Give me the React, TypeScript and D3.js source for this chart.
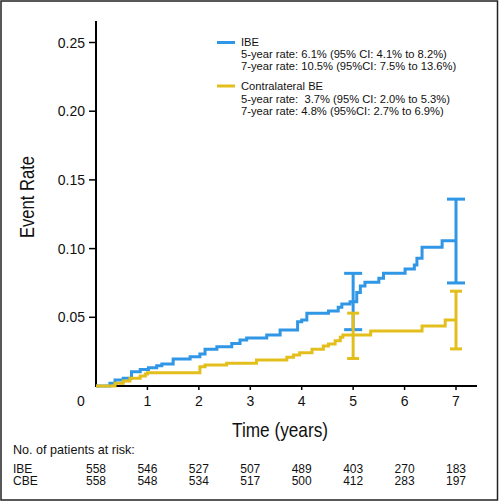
import React from "react";
import * as d3 from "d3";

const years = [0, 1, 2, 3, 4, 5, 6, 7];
const yTicks = [0.05, 0.1, 0.15, 0.2, 0.25];

const ibeTimes = [0, 0.27, 0.37, 0.53, 0.69, 0.86, 1.02, 1.18, 1.28, 1.5, 1.83, 2.02, 2.12, 2.35, 2.64, 2.8, 2.93, 3.32, 3.58, 3.92, 4.0, 4.1, 4.52, 4.71, 4.78, 4.94, 5.07, 5.14, 5.23, 5.5, 5.59, 6.01, 6.19, 6.24, 6.34, 6.73, 7.0];
const ibeRates = [0, 0.002, 0.0044, 0.0056, 0.0104, 0.012, 0.0133, 0.0148, 0.016, 0.0197, 0.0213, 0.0233, 0.0267, 0.0286, 0.031, 0.0335, 0.035, 0.0371, 0.0408, 0.0468, 0.048, 0.0529, 0.0546, 0.0573, 0.0597, 0.0614, 0.068, 0.0728, 0.0755, 0.0784, 0.082, 0.0852, 0.088, 0.093, 0.101, 0.1057, 0.1057];

const cbeTimes = [0, 0.37, 0.53, 0.66, 0.86, 0.96, 1.0, 2.02, 2.12, 2.54, 3.12, 3.71, 3.84, 3.96, 4.2, 4.42, 4.52, 4.65, 4.75, 4.8, 5.34, 6.34, 6.79, 7.0];
const cbeRates = [0, 0.002, 0.0036, 0.0056, 0.0073, 0.0087, 0.0097, 0.014, 0.0153, 0.0165, 0.0189, 0.0209, 0.0226, 0.0242, 0.0267, 0.0291, 0.0306, 0.033, 0.0354, 0.0371, 0.04, 0.0437, 0.048, 0.048];

const ciTimes = [5, 7];
const ibeLo = [0.041, 0.075];
const ibeHi = [0.082, 0.136];
const cbeLo = [0.02, 0.027];
const cbeHi = [0.053, 0.069];

const legendIBE = ["IBE", "5-year rate: 6.1% (95% CI: 4.1% to 8.2%)", "7-year rate: 10.5% (95%CI: 7.5% to 13.6%)"];
const legendCBE = ["Contralateral BE", "5-year rate:  3.7% (95% CI: 2.0% to 5.3%)", "7-year rate: 4.8% (95%CI: 2.7% to 6.9%)"];

const riskGroups = ["IBE", "CBE"];
const riskIBE = [558, 546, 527, 507, 489, 403, 270, 183];
const riskCBE = [558, 548, 534, 517, 500, 412, 283, 197];

const BLUE = "#3096e6";
const YELLOW = "#e3bf1e";
const FONT = "'Liberation Sans', Arial, sans-serif";

export default function App() {
  const x = d3.scaleLinear().domain([0, 7]).range([96, 456]);
  const y = d3.scaleLinear().domain([0, 0.25]).range([386, 42.5]);
  const line = d3
    .line<[number, number]>()
    .x((d) => x(d[0]))
    .y((d) => y(d[1]))
    .curve(d3.curveStepAfter);
  const ibePts: [number, number][] = ibeTimes.map((t, i) => [t, ibeRates[i]]);
  const cbePts: [number, number][] = cbeTimes.map((t, i) => [t, cbeRates[i]]);
  const yTop = 21;
  const xEnd = 477;

  const ci = (lo: number[], hi: number[], color: string, half: number) =>
    ciTimes.map((t, i) => (
      <g key={i} stroke={color} strokeWidth={3} fill="none">
        <line x1={x(t)} x2={x(t)} y1={y(lo[i])} y2={y(hi[i])} />
        <line x1={x(t) - half} x2={x(t) + half} y1={y(lo[i])} y2={y(lo[i])} />
        <line x1={x(t) - half} x2={x(t) + half} y1={y(hi[i])} y2={y(hi[i])} />
      </g>
    ));

  const riskRows = [riskIBE, riskCBE];
  const riskBase = [472.5, 485];

  return (
    <svg width={500} height={502} style={{ position: "absolute", left: 0, top: 0 }} fontFamily={FONT}>
      <rect x={0} y={0} width={500} height={502} fill="#fff" />
      <rect x={1} y={1} width={496.5} height={499} fill="none" stroke="#222" strokeWidth={1.5} />

      {/* axes */}
      <line x1={96} x2={96} y1={yTop} y2={y(0)} stroke="#000" strokeWidth={2} />
      <line x1={95} x2={xEnd} y1={y(0)} y2={y(0)} stroke="#000" strokeWidth={2} />
      {yTicks.map((v) => (
        <g key={v}>
          <line x1={89} x2={96} y1={y(v)} y2={y(v)} stroke="#000" strokeWidth={1.5} />
          <text x={85} y={y(v) + 5} fontSize={14} textAnchor="end" fill="#111">
            {v.toFixed(2)}
          </text>
        </g>
      ))}
      {years.map((t) =>
        t === 0 ? (
          <text key={t} x={81} y={406} fontSize={14} textAnchor="middle" fill="#111">
            0
          </text>
        ) : (
          <g key={t}>
            <line x1={x(t)} x2={x(t)} y1={y(0)} y2={y(0) + 4} stroke="#000" strokeWidth={1.5} />
            <text x={x(t)} y={406} fontSize={14} textAnchor="middle" fill="#111">
              {t}
            </text>
          </g>
        )
      )}
      <text
        transform={`translate(34,197) rotate(-90)`}
        fontSize={20}
        textAnchor="middle"
        fill="#111"
        textLength={82}
        lengthAdjust="spacingAndGlyphs"
      >
        Event Rate
      </text>
      <text x={280} y={437} fontSize={21} textAnchor="middle" fill="#111" textLength={96} lengthAdjust="spacingAndGlyphs">
        Time (years)
      </text>

      {/* curves */}
      <path d={line(ibePts) || ""} fill="none" stroke={BLUE} strokeWidth={3} />
      {ci(ibeLo, ibeHi, BLUE, 9)}
      <path d={line(cbePts) || ""} fill="none" stroke={YELLOW} strokeWidth={3} />
      {ci(cbeLo, cbeHi, YELLOW, 6)}

      {/* legend */}
      <line x1={217} x2={235} y1={42.5} y2={42.5} stroke={BLUE} strokeWidth={3} />
      {legendIBE.map((s, i) => (
        <text key={s} x={241} y={46 + i * 12} fontSize={11.2} fill="#111" style={{ whiteSpace: "pre" }}>
          {s}
        </text>
      ))}
      <line x1={217} x2={235} y1={86} y2={86} stroke={YELLOW} strokeWidth={3} />
      {legendCBE.map((s, i) => (
        <text key={s} x={241} y={90 + i * 12.5} fontSize={11.2} fill="#111" style={{ whiteSpace: "pre" }}>
          {s}
        </text>
      ))}

      {/* risk table */}
      <text x={13} y={454} fontSize={12.6} fill="#111">
        No. of patients at risk:
      </text>
      {riskGroups.map((g, r) => (
        <g key={g}>
          <text x={13} y={riskBase[r]} fontSize={12} fill="#111">
            {g}
          </text>
          {riskRows[r].map((n, i) => (
            <text key={i} x={x(years[i])} y={riskBase[r]} fontSize={12} textAnchor="middle" fill="#111">
              {n}
            </text>
          ))}
        </g>
      ))}
    </svg>
  );
}
